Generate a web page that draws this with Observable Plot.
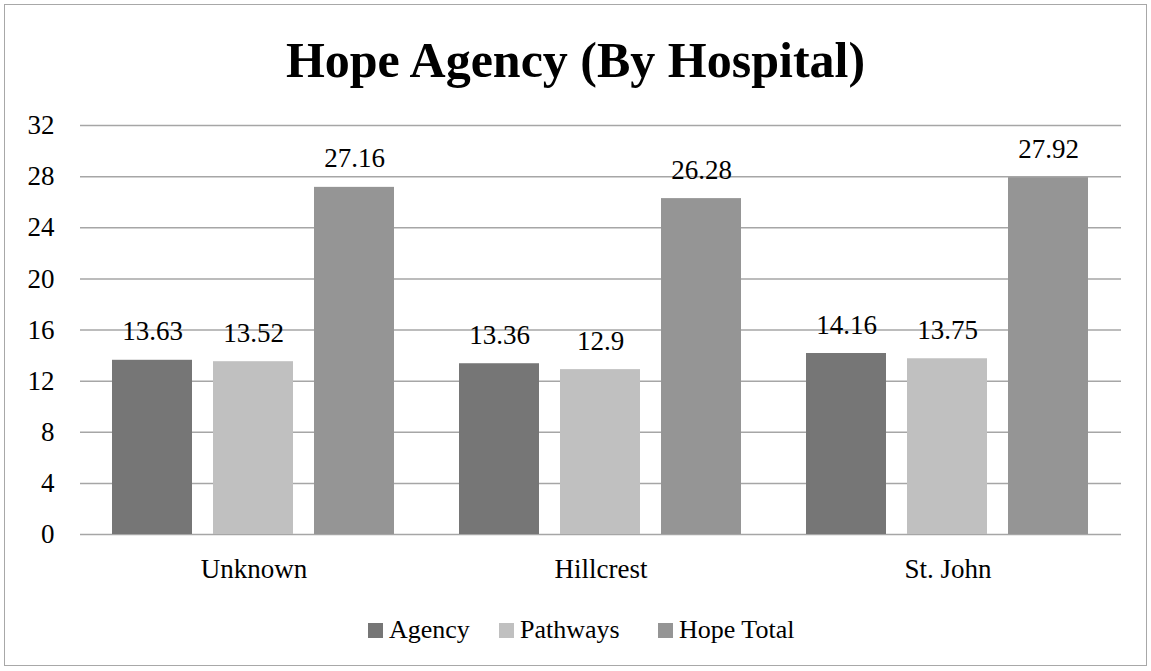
<!DOCTYPE html>
<html>
<head>
<meta charset="utf-8">
<script src="https://cdn.jsdelivr.net/npm/d3@7"></script>
<script src="https://cdn.jsdelivr.net/npm/@observablehq/plot@0.6"></script>
<style>
  html, body { margin: 0; padding: 0; background: #fff; }
  #wrap { position: relative; width: 1151px; height: 671px; overflow: hidden; font-family: "Liberation Serif", serif; }
  #frame { position: absolute; left: 4px; top: 4px; width: 1143px; height: 662px; border: 1.5px solid #a8a8a8; box-sizing: border-box; }
  #title { position: absolute; left: 0; width: 1151px; top: 33px; text-align: center; font-weight: bold; font-size: 50px; line-height: 54px; color: #000; }
  #chart { position: absolute; left: 0; top: 100px; }
  #chart svg, #chart svg text { font-family: "Liberation Serif", serif !important; }
  #legend { position: absolute; left: 0; top: 613px; width: 1151px; height: 34px; font-size: 26px; color: #000; }
  .item { position: absolute; top: 0; display: flex; align-items: center; height: 34px; white-space: nowrap; }
  .sw { width: 15px; height: 15px; margin-right: 6px; }
</style>
</head>
<body>
<div id="wrap">
  <div id="frame"></div>
  <div id="title">Hope Agency (By Hospital)</div>
  <div id="chart"></div>
  <div id="legend"></div>
</div>
<script>
const hospitals = ["Unknown", "Hillcrest", "St. John"];
const series = ["Agency", "Pathways", "Hope Total"];
const agency = [13.63, 13.36, 14.16];
const pathways = [13.52, 12.9, 13.75];
const hopeTotal = [27.16, 26.28, 27.92];
const yTicks = [0, 4, 8, 12, 16, 20, 24, 28, 32];
const colors = ["#767676", "#c0c0c0", "#959595"];

const valuesBySeries = [agency, pathways, hopeTotal];
const data = [];
hospitals.forEach((h, i) => {
  series.forEach((s, j) => {
    data.push({hospital: h, series: s, value: valuesBySeries[j][i]});
  });
});

const chart = Plot.plot({
  width: 1151,
  height: 490,
  marginLeft: 79,
  marginRight: 29,
  marginTop: 25,
  marginBottom: 56,
  style: {fontFamily: "'Liberation Serif', serif", fontSize: "27px", background: "transparent", color: "#000"},
  fx: {domain: hospitals, padding: 0, label: null, tickSize: 0, tickPadding: 24},
  x: {domain: series, paddingInner: 0.206, paddingOuter: 0.307, axis: null},
  y: {domain: [0, 32], ticks: yTicks, tickSize: 0, tickPadding: 26, label: null},
  color: {domain: series, range: colors},
  marks: [
    Plot.ruleY(yTicks, {stroke: "#a6a6a6", strokeWidth: 1.5}),
    Plot.barY(data, {fx: "hospital", x: "series", y: "value", fill: "series"}),
    Plot.text(data, {fx: "hospital", x: "series", y: "value", text: d => String(d.value), lineAnchor: "bottom", dy: -20, fill: "#000"})
  ]
});
document.getElementById("chart").appendChild(chart);

const legendLeft = [368, 499, 658];
const legend = document.getElementById("legend");
series.forEach((s, i) => {
  const item = document.createElement("div");
  item.className = "item";
  item.style.left = legendLeft[i] + "px";
  const sw = document.createElement("div");
  sw.className = "sw";
  sw.style.background = colors[i];
  const t = document.createElement("span");
  t.textContent = s;
  item.appendChild(sw);
  item.appendChild(t);
  legend.appendChild(item);
});
</script>
</body>
</html>
